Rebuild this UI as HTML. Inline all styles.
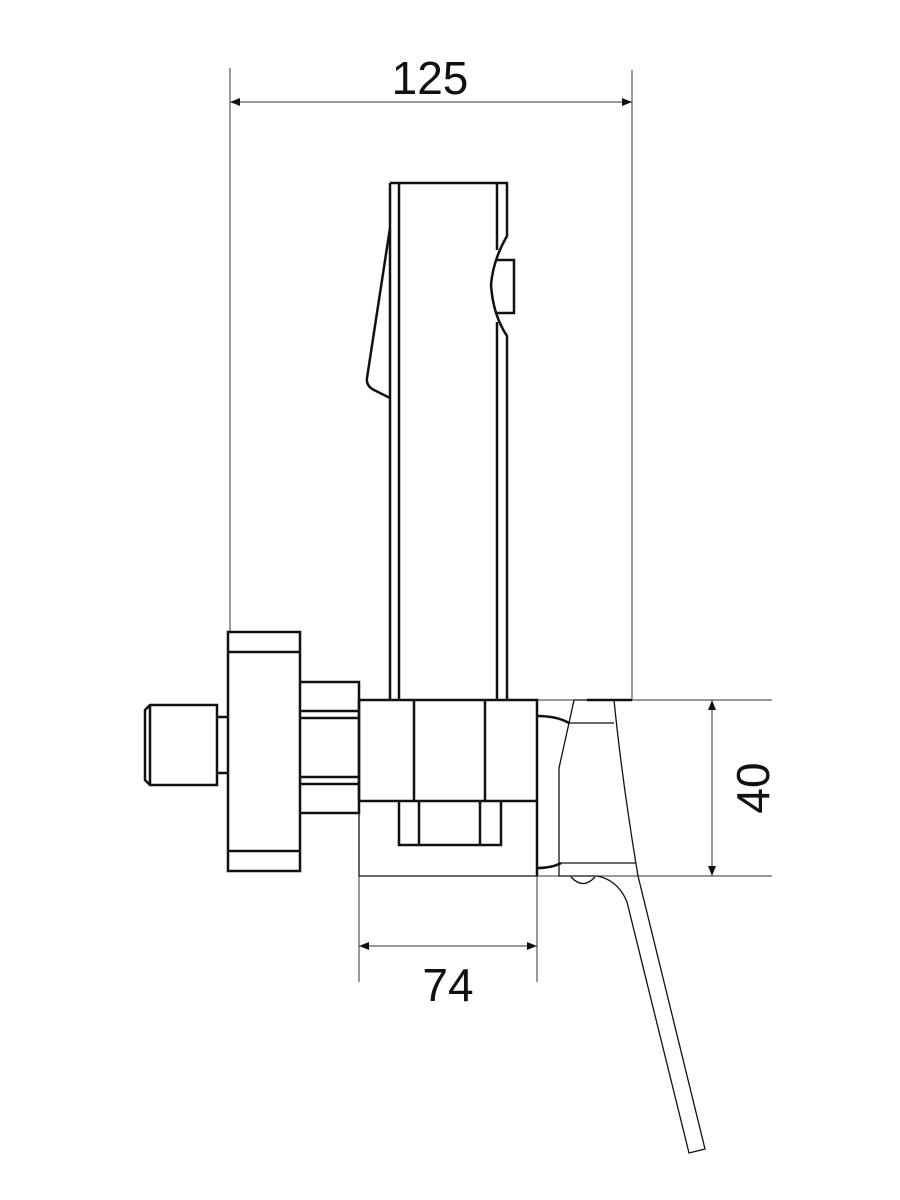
<!DOCTYPE html>
<html><head><meta charset="utf-8"><style>html,body{margin:0;padding:0;background:#fff}svg{display:block}</style></head>
<body>
<svg width="900" height="1200" viewBox="0 0 900 1200" xmlns="http://www.w3.org/2000/svg" fill="none" stroke="#111" stroke-linejoin="miter">
<defs>
<marker id="a" markerWidth="10" markerHeight="8" refX="10" refY="4" orient="auto-start-reverse" markerUnits="userSpaceOnUse"><path d="M0,0 L10,4 L0,8 Z" fill="#111" stroke="none"/></marker>
</defs>
<g stroke-width="1" stroke="#333">
<line x1="230" y1="68" x2="230" y2="632"/>
<line x1="632" y1="70" x2="632" y2="700"/>
<line x1="230" y1="102" x2="632" y2="102" marker-start="url(#a)" marker-end="url(#a)"/>
<line x1="537" y1="700" x2="772" y2="700"/>
<line x1="537" y1="876" x2="772" y2="876"/>
<line x1="712" y1="700" x2="712" y2="876" marker-start="url(#a)" marker-end="url(#a)"/>
<line x1="359" y1="876" x2="359" y2="982"/>
<line x1="537" y1="876" x2="537" y2="982"/>
<line x1="359" y1="946" x2="537" y2="946" marker-start="url(#a)" marker-end="url(#a)"/>
</g>
<g font-family="Liberation Sans, sans-serif" font-size="46" fill="#111" stroke="none" text-anchor="middle">
<text x="430" y="94">125</text>
<text x="448" y="1001">74</text>
<text transform="translate(769,788) rotate(-90)">40</text>
</g>
<g stroke-width="2.5">
<path d="M390,183 H507 V236 Q493,260 491,285 Q493,315 507,336 V700"/>
<line x1="390" y1="183" x2="390" y2="700"/>
<line x1="399" y1="183" x2="399" y2="700"/>
<line x1="497" y1="183" x2="497" y2="250"/>
<line x1="497" y1="322" x2="497" y2="700"/>
<path d="M497,260 H514 V313 H497"/>
<path d="M390,228 L367,378 Q366,386 374,390 L390,398"/>
<path d="M150,705 H217 V785 H150 L145,780 V710 Z"/>
<line x1="150" y1="705" x2="150" y2="785"/>
<path d="M217,717 H228 M217,773 H228"/>
<rect x="228" y="632" width="72" height="239"/>
<path d="M228,652 H300 M228,851 H300"/>
<path d="M300,682 H359 V813 H300"/>
<path d="M300,711 H359 M300,718 H359 M300,777 H359 M300,784 H359"/>
<path d="M359,700 H537 V876"/>
<line x1="359" y1="700" x2="359" y2="801"/>
<path d="M359,801 H537"/>
<path d="M414,700 V801 M485,700 V801"/>
<path d="M399,801 V845 H501 V801 M419,801 V845 M480,801 V845"/>
<path d="M537,716 Q557,716 569,723 M537,868 Q552,868 561,863"/>
<path d="M587,700 H632"/>
</g>
<g stroke-width="1.3">
<path d="M359,801 V876 H537"/>
<path d="M574,700 H614"/>
<path d="M574,700 L569,723 L559,768 V876 H597"/>
<path d="M569,723 H614 M561,863 H636"/>
<path d="M614,700 Q622,780 638,876 L705,1149 L689,1153 L627,902 Q618,880 597,876"/>
<path d="M571,877 Q583,890 595,877"/>
</g>
</svg>
</body></html>
